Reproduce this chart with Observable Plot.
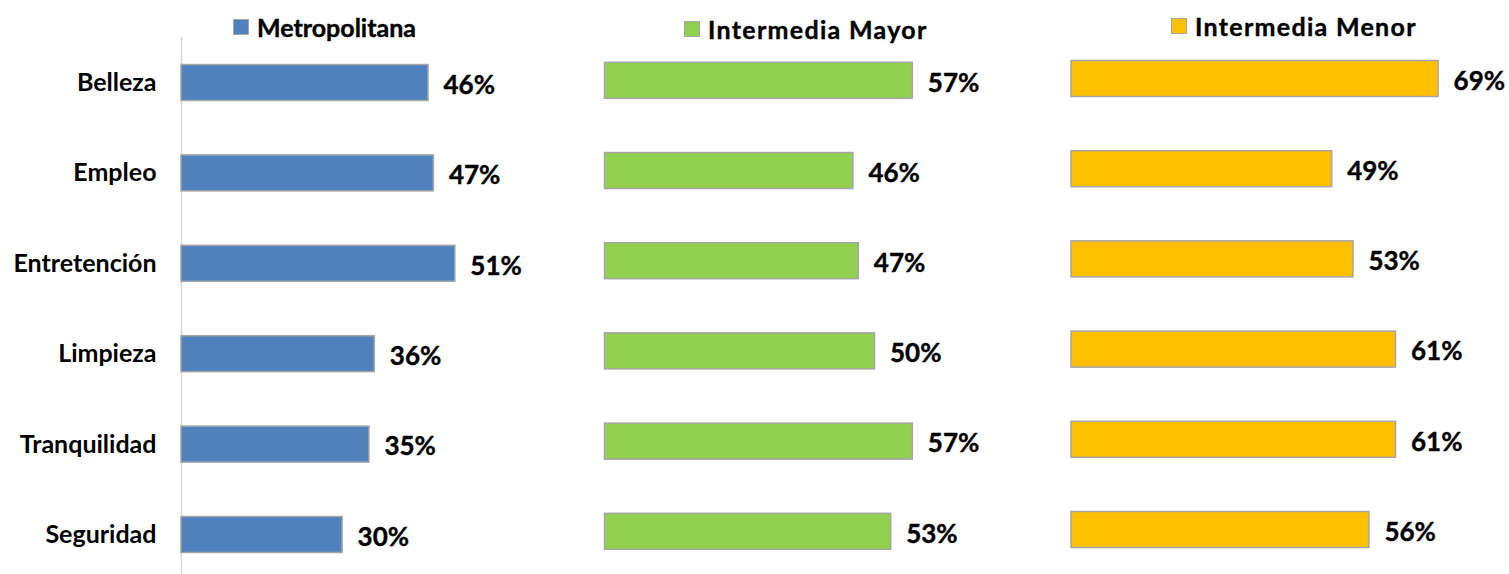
<!DOCTYPE html>
<html>
<head>
<meta charset="utf-8">
<script src="https://cdn.jsdelivr.net/npm/d3@7"></script>
<script src="https://cdn.jsdelivr.net/npm/@observablehq/plot@0.6"></script>
<style>
  html, body { margin: 0; padding: 0; background: #fff; }
  #wrap { position: relative; width: 1509px; height: 574px; overflow: hidden;
          font-family: Lato, "Open Sans", sans-serif; font-weight: 700; color: #000; }
  #wrap svg { position: absolute; left: 0; top: 0; background: transparent; }
  .leg { position: absolute; display: flex; align-items: center; white-space: nowrap;
         font-size: 25px; line-height: 28px; -webkit-text-stroke: 0.4px #000; }
  .sw { display: inline-block; width: 14px; height: 14px; border: 1px solid #a6a6a6; margin-right: 8px;
        -webkit-text-stroke: 0; }
</style>
</head>
<body>
<div id="wrap"></div>
<script>
// ---- data ----
const categories = ["Belleza", "Empleo", "Entretención", "Limpieza", "Tranquilidad", "Seguridad"];
const seriesNames = ["Metropolitana", "Intermedia Mayor", "Intermedia Menor"];
const metropolitana   = [46, 47, 51, 36, 35, 30];
const intermediaMayor = [57, 46, 47, 50, 57, 53];
const intermediaMenor = [69, 49, 53, 61, 61, 56];
const seriesColors = ["#4f81bd", "#92d050", "#ffc000"];

// ---- layout (pixels) ----
const W = 1509, H = 574;
const panels = [
  { values: metropolitana,   x0: 181,   k: 5.37, yFirst: 82.5, step: 90.4, axis: true,  leg: { left: 233, top: 13, ls: 0 } },
  { values: intermediaMayor, x0: 604.5, k: 5.40, yFirst: 80.3, step: 90.2, axis: false, leg: { left: 684, top: 15, ls: 1.3 } },
  { values: intermediaMenor, x0: 1071,  k: 5.32, yFirst: 78.5, step: 90.2, axis: false, leg: { left: 1171, top: 12, ls: 1.3 } }
];
const barH = 36;
const wrap = document.getElementById("wrap");

panels.forEach((p, si) => {
  const rows = categories.map((c, i) => ({ category: c, value: p.values[i] }));
  const pad = 1 - barH / p.step;
  const r0 = p.yFirst - barH / 2 - pad * p.step;
  const r1 = r0 + (categories.length + pad) * p.step;
  const marks = [];
  if (p.axis) {
    marks.push(Plot.ruleX([0], { stroke: "#d9d9d9", strokeWidth: 1.5 }));
    marks.push(Plot.axisY({ tickSize: 0, tickPadding: 25, fontSize: 25, fontWeight: 700, label: null,
                            stroke: "#000", strokeWidth: 0.4 }));
  }
  marks.push(Plot.barX(rows, { y: "category", x: "value", fill: seriesColors[si], stroke: "#a6a6a6", strokeWidth: 1.5 }));
  marks.push(Plot.text(rows, { y: "category", x: "value", text: d => d.value + "%", textAnchor: "start",
                               dx: 15, dy: 2.5, fontSize: 26, fontWeight: 700, fill: "#000",
                               stroke: "#000", strokeWidth: 0.4 }));
  const chart = Plot.plot({
    width: W, height: H,
    marginTop: 37, marginBottom: 0, marginLeft: p.x0, marginRight: 0,
    style: { background: "transparent", fontFamily: "Lato, 'Open Sans', sans-serif", color: "#000", overflow: "visible" },
    x: { domain: [0, 100], range: [p.x0, p.x0 + 100 * p.k], axis: null },
    y: { type: "band", domain: categories, range: [r0, r1], padding: pad, round: false, axis: null },
    marks
  });
  wrap.appendChild(chart);

  const leg = document.createElement("div");
  leg.className = "leg";
  leg.style.left = p.leg.left + "px";
  leg.style.top = p.leg.top + "px";
  leg.style.letterSpacing = p.leg.ls + "px";
  const sw = document.createElement("span");
  sw.className = "sw";
  sw.style.background = seriesColors[si];
  leg.appendChild(sw);
  leg.appendChild(document.createTextNode(seriesNames[si]));
  wrap.appendChild(leg);
});
</script>
</body>
</html>
